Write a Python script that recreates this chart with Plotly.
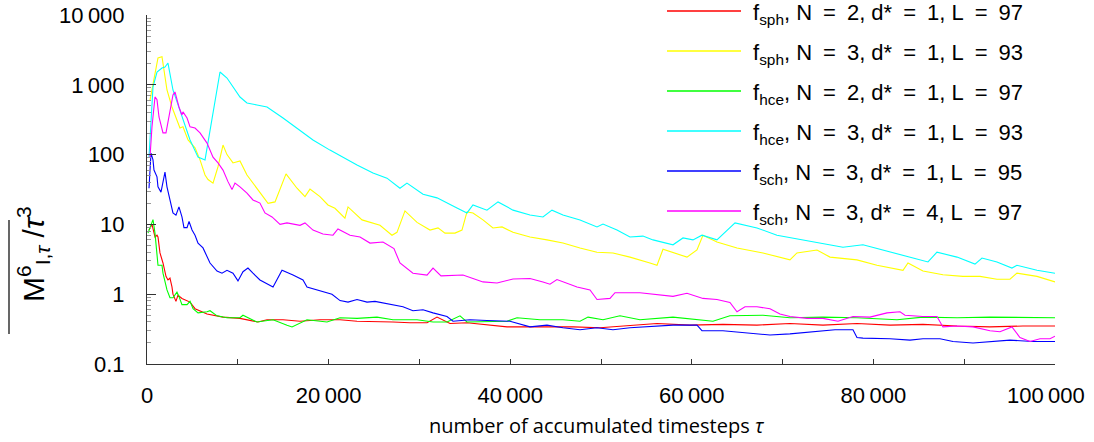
import plotly.graph_objects as go

# ---------------- data ----------------
tau_red = [220, 550, 880, 1100, 1210, 1430, 1760, 2090, 2310, 2530, 2750, 2860, 3190, 3410, 3850, 4740, 5290, 6610, 8370, 10240,
           12220, 13220, 14980, 16850, 19050, 21260, 23130, 24890, 27090, 28960, 30840, 31940, 33370, 35240, 37780, 39650, 41410,
           44380, 46920, 49890, 52420, 56170, 59800, 63430, 67180, 70810, 74450, 78190, 81830, 85460, 89210, 92840, 96470, 100000]
val_red = [8.3, 10, 6.6, 7.0, 6.6, 3.9, 2.8, 1.8, 1.6, 1.7, 1.27, 1.0, 0.79, 0.97, 0.87, 0.77, 0.62, 0.52, 0.47, 0.45,
           0.40, 0.43, 0.43, 0.41, 0.43, 0.43, 0.41, 0.41, 0.40, 0.39, 0.39, 0.47, 0.38, 0.39, 0.36, 0.34, 0.34,
           0.34, 0.34, 0.33, 0.35, 0.38, 0.36, 0.37, 0.36, 0.38, 0.36, 0.38, 0.36, 0.37, 0.35, 0.34, 0.35, 0.35]

tau_yellow = [330, 660, 1100, 1210, 1650, 1760, 2200, 2750, 3300, 3630, 3960, 4520, 5290, 5840, 6390, 6720, 7270, 7820, 8370, 8810,
              9470, 10240, 11010, 12110, 13330, 14100, 15310, 16520, 17400, 17950, 19050, 19930, 20700, 21800, 22140, 23680, 25660,
              26980, 27530, 28410, 29740, 31170, 32050, 32820, 33920, 34690, 35240, 35900, 37000, 38100, 39100, 40310, 42180, 44050,
              45810, 47690, 49560, 51320, 53190, 55390, 56170, 56830, 59470, 60570, 61230, 62770, 64980, 67840, 70810, 71580, 73790,
              75220, 78190, 80390, 83260, 83810, 85460, 87660, 89860, 91740, 93610, 95040, 95810, 98020, 100000]
val_yellow = [605, 1000, 2120, 2420, 2520, 2050, 843, 481, 317, 240, 250, 162, 125, 84, 51, 44, 39, 67, 137, 100,
              76, 81, 51, 33, 20, 21, 53, 33, 25, 32, 25, 19, 17, 12.3, 17.8, 11.6, 9.7,
              7.0, 7.7, 15.6, 10.7, 8.3, 8.9, 7.5, 7.5, 8.3, 15.1, 14.6, 11.6, 8.9, 9.2, 7.7, 6.6, 6.0,
              5.4, 4.6, 4.0, 3.9, 3.4, 2.8, 2.6, 4.4, 3.4, 4.3, 7.0, 5.6, 4.6, 3.9, 3.1, 3.9, 4.3,
              3.4, 3.1, 2.6, 2.2, 2.8, 2.15, 1.9, 1.8, 1.8, 1.64, 1.64, 2.0, 1.8, 1.5]

tau_green = [110, 550, 660, 880, 1100, 1210, 1650, 1760, 2200, 2530, 2860, 3300, 3520, 3850, 4410, 4740, 5070, 5620, 6610, 6940,
             7710, 8810, 10240, 10570, 12110, 13880, 15420, 15970, 17620, 19820, 21260, 23130, 25330, 27090, 29740, 31500, 33040,
             34470, 35240, 37780, 39650, 40750, 43280, 45810, 47690, 48570, 50220, 52090, 54290, 57930, 62330, 64200, 67840, 70810,
             74450, 78190, 82600, 85460, 89210, 92840, 96470, 100000]
val_green = [7.5, 10.8, 11.7, 7.5, 3.4, 2.6, 2.6, 2.0, 1.15, 0.89, 0.89, 1.07, 0.93, 0.71, 0.71, 0.79, 0.62, 0.54, 0.56, 0.58,
             0.49, 0.46, 0.46, 0.50, 0.40, 0.43, 0.36, 0.34, 0.43, 0.40, 0.46, 0.45, 0.47, 0.43, 0.43, 0.40, 0.40,
             0.49, 0.40, 0.40, 0.41, 0.46, 0.43, 0.43, 0.41, 0.47, 0.43, 0.49, 0.43, 0.47, 0.41, 0.49, 0.50, 0.46,
             0.47, 0.46, 0.43, 0.47, 0.46, 0.47, 0.47, 0.46]

tau_cyan = [220, 660, 1100, 1650, 1980, 2310, 2860, 3850, 4740, 5620, 6390, 8040, 8810, 10240, 11010, 12110, 13220, 14980, 16850,
            18280, 20150, 22030, 23130, 24890, 26430, 27860, 28630, 30400, 31940, 34140, 35240, 35900, 37440, 38660, 40310, 42180,
            43610, 44600, 45810, 47690, 49560, 50220, 51760, 53190, 54620, 55730, 57930, 59030, 60130, 61120, 62770, 64760, 67180,
            69380, 72250, 74450, 76650, 78850, 81060, 83260, 86010, 87000, 89210, 91190, 91960, 93610, 95260, 95810, 98020, 100000]
val_cyan = [92, 930, 1525, 1740, 1800, 2050, 843, 346, 162, 92, 84, 1525, 1250, 668, 548, 514, 481, 334, 225,
            162, 116, 84, 71, 54.5, 46, 33, 39, 27, 24, 17.2, 14.6, 19, 16, 21, 16, 13.6,
            12.8, 16, 13.6, 11.6, 9.2, 10.1, 8.3, 6.6, 6.8, 6.0, 5.1, 6.4, 6.0, 7.0, 6.0, 10.5, 8.9,
            7.0, 6.0, 5.4, 4.7, 5.1, 4.3, 3.6, 2.9, 4.0, 3.4, 2.7, 3.3, 2.9, 2.37, 2.6, 2.2, 2.0]

tau_blue = [220, 440, 660, 770, 1100, 1210, 1540, 1760, 1980, 2200, 2530, 2860, 3190, 3520, 3850, 4070, 4410, 4630, 4960, 5290,
            5620, 6170, 6940, 7710, 8260, 8810, 9470, 10020, 10570, 11120, 11670, 12440, 13880, 14870, 16080, 17180, 17620, 18720,
            20370, 21260, 22140, 23130, 24230, 25110, 26430, 28190, 29290, 30400, 31500, 33040, 33700, 35570, 37440, 39980, 42180,
            44050, 45810, 47690, 49560, 51320, 53190, 55390, 57930, 60570, 61120, 63430, 66410, 68610, 70810, 73790, 75770, 77750,
            78190, 78850, 81830, 84030, 85460, 87330, 88770, 90970, 92840, 95040, 97570, 100000]
val_blue = [33, 105, 84, 60, 48, 34.5, 29, 41, 56, 34.5, 22.4, 14.6, 13.6, 17.8, 12.8, 9.0, 9.0, 11, 8.3, 7.0,
            5.4, 4.6, 2.8, 2.15, 2.0, 2.2, 2.0, 1.55, 2.1, 2.37, 2.0, 1.6, 1.27, 2.2, 1.88, 1.6, 1.27, 1.15,
            1.0, 0.81, 0.77, 0.84, 0.77, 0.79, 0.73, 0.66, 0.58, 0.60, 0.54, 0.48, 0.41, 0.43, 0.42, 0.41, 0.34,
            0.36, 0.33, 0.31, 0.33, 0.31, 0.33, 0.34, 0.36, 0.36, 0.30, 0.30, 0.28, 0.26, 0.27, 0.29, 0.31, 0.31,
            0.24, 0.235, 0.23, 0.22, 0.23, 0.23, 0.21, 0.20, 0.21, 0.22, 0.21, 0.21]

tau_magenta = [330, 550, 880, 1100, 1320, 1760, 2090, 2420, 2860, 3080, 3520, 3850, 3960, 4410, 4740, 5290, 5840, 6610, 7270, 7820,
               8370, 8920, 9360, 9690, 10240, 11010, 11670, 12440, 12990, 13770, 14650, 15420, 16850, 17400, 18280, 19380, 20480,
               21030, 22360, 23460, 24560, 25990, 27200, 27860, 29290, 30840, 31500, 32380, 34800, 37000, 38550, 40310, 42180,
               43610, 44380, 45150, 47360, 48790, 49560, 50990, 51540, 54290, 57930, 59470, 61230, 62770, 64200, 64980, 65860,
               67180, 68610, 69710, 70810, 72690, 74450, 76100, 77750, 79620, 81500, 82930, 83480, 85460, 87000, 87660, 89210,
               90970, 92840, 93940, 95260, 96140, 97250, 98350, 99450, 100000]
val_magenta = [92, 250, 670, 610, 346, 205, 205, 346, 714, 790, 481, 370, 410, 334, 250, 240, 205, 146, 92, 76,
               60, 41, 31.5, 39, 34.5, 28, 22.4, 20.2, 14.6, 12.8, 10, 10.5, 9.7, 10.5, 8.3, 7.3, 7.0,
               8.6, 7.0, 6.6, 5.4, 5.6, 4.5, 2.8, 2.0, 1.88, 2.37, 1.83, 1.88, 1.5, 1.45, 1.65, 1.68,
               1.5, 1.39, 1.62, 1.27, 1.15, 0.84, 0.87, 1.05, 1.05, 0.93, 1.03, 0.87, 0.84, 0.76, 0.56, 0.66,
               0.66, 0.62, 0.52, 0.48, 0.45, 0.45, 0.41, 0.48, 0.47, 0.54, 0.56, 0.50, 0.48, 0.48, 0.34, 0.35,
               0.34, 0.30, 0.29, 0.34, 0.24, 0.21, 0.23, 0.23, 0.25]

EQ = "\u2002=\u2002"
labels = [
    f"f<sub>sph</sub>, N{EQ}2, d*{EQ}1, L{EQ}97",
    f"f<sub>sph</sub>, N{EQ}3, d*{EQ}1, L{EQ}93",
    f"f<sub>hce</sub>, N{EQ}2, d*{EQ}1, L{EQ}97",
    f"f<sub>hce</sub>, N{EQ}3, d*{EQ}1, L{EQ}93",
    f"f<sub>sch</sub>, N{EQ}3, d*{EQ}1, L{EQ}95",
    f"f<sub>sch</sub>, N{EQ}3, d*{EQ}4, L{EQ}97",
]
colors = ["#ff0000", "#ffff00", "#00ff00", "#00ffff", "#0000ff", "#ff00ff"]
taus = [tau_red, tau_yellow, tau_green, tau_cyan, tau_blue, tau_magenta]
vals = [val_red, val_yellow, val_green, val_cyan, val_blue, val_magenta]

x_tickvals = [0, 10000, 20000, 30000, 40000, 50000, 60000, 70000, 80000, 90000, 100000]
x_ticktext = ["0", "", "20\u2009000", "", "40\u2009000", "", "60\u2009000", "", "80\u2009000", "", ""]
x_last_label = "100\u2009000"
y_tickvals = [0.1, 1, 10, 100, 1000, 10000]
y_ticktext = ["0.1", "1", "10", "100", "1\u2009000", "10\u2009000"]

# ---------------- figure ----------------
W, H = 1094, 442
ML, MR, MT, MB = 147, 39, 15, 78
PW, PH = W - ML - MR, H - MT - MB

def px_x(px):
    return (px - ML) / PW

def px_y(py):
    return (H - MB - py) / PH

fig = go.Figure()
for t, v, c, lab in zip(taus, vals, colors, labels):
    fig.add_trace(go.Scatter(x=t, y=v, mode="lines", name=lab,
                             line=dict(color=c, width=1.1), showlegend=False))

minor_vals = [m * 10.0 ** e for e in range(-1, 4) for m in range(2, 10)]

FONT = "Liberation Sans, Arial, Helvetica, sans-serif"
fig.update_layout(
    width=W, height=H,
    margin=dict(l=ML, r=MR, t=MT, b=MB, autoexpand=False),
    paper_bgcolor="white", plot_bgcolor="white",
    font=dict(family=FONT, size=22, color="black"),
    xaxis=dict(range=[0, 100000.5], tickmode="array", tickvals=x_tickvals, ticktext=x_ticktext,
               ticks="inside", ticklen=5, tickcolor="#333", tickwidth=1,
               showline=True, linecolor="#333", linewidth=1, mirror=False,
               showgrid=False, zeroline=False, ticklabelstandoff=12, automargin=False,
               tickfont=dict(family=FONT, size=22, color="black")),
    yaxis=dict(type="log", range=[-1, 4], tickmode="array", tickvals=y_tickvals, ticktext=y_ticktext,
               ticks="inside", ticklen=9, tickcolor="#333", tickwidth=1,
               showline=True, linecolor="#333", linewidth=1, mirror=False,
               showgrid=False, zeroline=False, ticklabelstandoff=17, automargin=False,
               ticklabeloverflow="allow",
               tickfont=dict(family=FONT, size=22, color="black"),
               minor=dict(tickmode="array", tickvals=minor_vals, ticks="inside", ticklen=4,
                          tickcolor="#999", showgrid=False)),
)

annotations = []
shapes = []
# manual legend
row_y = [11, 51, 91, 131, 171, 211]
for ry, c, lab in zip(row_y, colors, labels):
    shapes.append(dict(type="line", xref="paper", yref="paper",
                       x0=px_x(667), x1=px_x(741), y0=px_y(ry), y1=px_y(ry),
                       line=dict(color=c, width=1.5)))
    annotations.append(dict(xref="paper", yref="paper", x=px_x(751), y=px_y(ry + 3),
                            xanchor="left", yanchor="middle", showarrow=False,
                            text=lab, font=dict(family=FONT, size=22, color="black")))

# last x tick label, kept inside the picture as in the reference
annotations.append(dict(xref="paper", yref="paper", x=px_x(1046), y=px_y(395),
                        xanchor="center", yanchor="middle", showarrow=False,
                        text=x_last_label, font=dict(family=FONT, size=22, color="black")))
# x axis title
annotations.append(dict(xref="paper", yref="paper", x=px_x(597), y=px_y(425),
                        xanchor="center", yanchor="middle", showarrow=False,
                        text="number of accumulated timesteps <i>τ</i>",
                        font=dict(family="Open Sans, DejaVu Sans, sans-serif", size=20, color="black")))
# y axis title
annotations.append(dict(xref="paper", yref="paper", x=px_x(33), y=px_y(254),
                        xanchor="center", yanchor="middle", showarrow=False, textangle=-90,
                        text="M<sup>6</sup><sub>I,<i>τ</i></sub> /<i>τ</i><sup>3</sup>",
                        font=dict(family=FONT, size=30, color="black")))
shapes.append(dict(type="line", xref="paper", yref="paper",
                   x0=px_x(9), x1=px_x(9), y0=px_y(220), y1=px_y(334),
                   line=dict(color="black", width=1.2)))

fig.update_layout(annotations=annotations, shapes=shapes)
fig.write_html("out.html")
